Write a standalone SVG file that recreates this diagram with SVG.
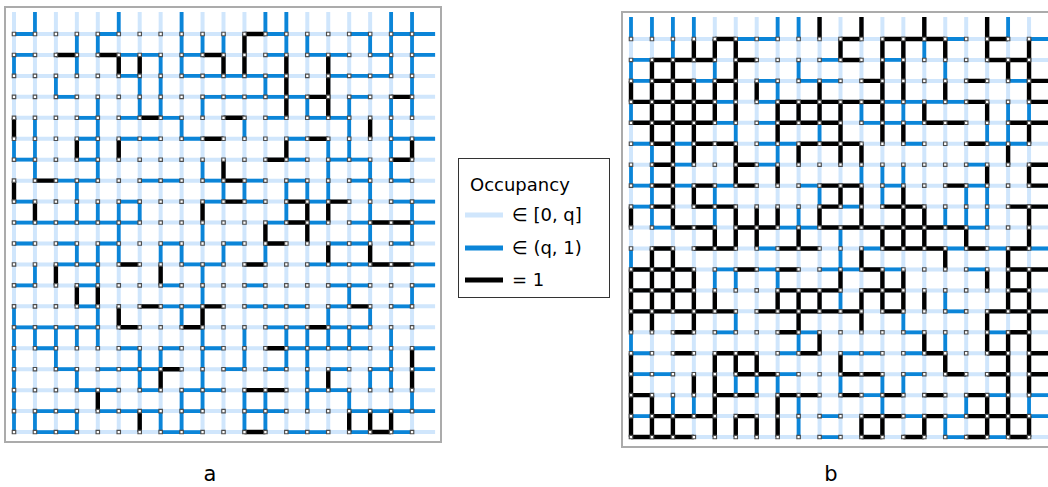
<svg xmlns="http://www.w3.org/2000/svg" xmlns:xlink="http://www.w3.org/1999/xlink" width="1048" height="487" viewBox="0 0 1048 487">
<style>
.lt{fill:none;stroke:#d0e6fc;stroke-width:0.19}
.bl{fill:none;stroke:#0b85d8;stroke-width:0.18}
.bk{fill:none;stroke:#000;stroke-width:0.21}
.nd{fill:none;stroke:#4d4d4d;stroke-width:0.22;stroke-dasharray:0.22 0.78}
.nw{fill:none;stroke:#fff;stroke-width:0.11;stroke-dasharray:0.11 0.89}
.box{fill:#fff;stroke:#ababab;stroke-width:2}
text{font-family:"DejaVu Sans",Verdana,sans-serif;fill:#000}
</style>
<defs>
<path id="lat" class="lt" d="M-.1 0H20.1M-.1 1H20.1M-.1 2H20.1M-.1 3H20.1M-.1 4H20.1M-.1 5H20.1M-.1 6H20.1M-.1 7H20.1M-.1 8H20.1M-.1 9H20.1M-.1 10H20.1M-.1 11H20.1M-.1 12H20.1M-.1 13H20.1M-.1 14H20.1M-.1 15H20.1M-.1 16H20.1M-.1 17H20.1M-.1 18H20.1M-.1 19H20.1M0-1.05V19M1-1.05V19M2-1.05V19M3-1.05V19M4-1.05V19M5-1.05V19M6-1.05V19M7-1.05V19M8-1.05V19M9-1.05V19M10-1.05V19M11-1.05V19M12-1.05V19M13-1.05V19M14-1.05V19M15-1.05V19M16-1.05V19M17-1.05V19M18-1.05V19M19-1.05V19"/>
<g id="nrow"><path class="nd" d="M-.11 0H19.3"/><path class="nw" d="M-.055 0H19.3"/></g>
<g id="nodes">
<use xlink:href="#nrow" y="0"/><use xlink:href="#nrow" y="1"/><use xlink:href="#nrow" y="2"/><use xlink:href="#nrow" y="3"/><use xlink:href="#nrow" y="4"/>
<use xlink:href="#nrow" y="5"/><use xlink:href="#nrow" y="6"/><use xlink:href="#nrow" y="7"/><use xlink:href="#nrow" y="8"/><use xlink:href="#nrow" y="9"/>
<use xlink:href="#nrow" y="10"/><use xlink:href="#nrow" y="11"/><use xlink:href="#nrow" y="12"/><use xlink:href="#nrow" y="13"/><use xlink:href="#nrow" y="14"/>
<use xlink:href="#nrow" y="15"/><use xlink:href="#nrow" y="16"/><use xlink:href="#nrow" y="17"/><use xlink:href="#nrow" y="18"/><use xlink:href="#nrow" y="19"/>
</g>
</defs>
<rect width="1048" height="487" fill="#fff"/>

<g id="panel-a">
<rect class="box" x="5" y="7" width="436" height="435"/>
<g transform="translate(14 34) scale(20.95)">
<use xlink:href="#lat"/>
<path class="bl" d="M0 0h1M4 0h1M12 0h1M16 0h1M18 0h2.1M0 1h1M5 1h2M8 1h1M12 1h1M14 1h2M17 1h1M19 1h1.1M5 2h1M8 2h5M15 2h3M2 3h1M9 3h5M16 3h1M3 4h1M5 4h1M7 4h1M12 4h1M14 4h2M3 5h1M5 5h2M8 5h1M13 5h1M18 5h2.1M0 6h1M3 6h1M13 6h1M15 6h2M2 7h2M6 7h2M9 7h1M11 7h1M13 7h1M16 7h1M18 7h1M0 8h1M5 8h1M9 8h1M11 8h1M14 8h1M18 8h2.1M0 9h6M12 9h1M14 9h1M16 9h1M19 9h1.1M0 10h1M2 10h1M4 10h1M7 10h1M10 10h1M15 10h2M18 10h1M2 11h2M8 11h2M14 11h3M19 11h1.1M0 12h1M3 12h1M7 12h1M11 12h1M15 12h2M19 12h1.1M3 13h1M7 13h2M11 13h3M15 13h1M18 13h1M0 14h4M12 14h2M15 14h2M1 15h1M5 15h1M7 15h1M9 15h1M13 15h4M19 15h1.1M2 16h1M4 16h3M10 16h1M12 16h1M15 16h1M17 16h1M19 16h1.1M3 17h2M6 17h1M8 17h2M14 17h2M1 18h2M4 18h3M8 18h1M11 18h2M16 18h4.1M1 19h2M7 19h2M13 19h2M16 19h1M18 19h1
M0 2v-1M0 6v-1M0 19V13M1 0V-1.05M1 7V4M1 12v-1M1 15v-1M1 19v-1M2 3v-1M2 16V14M3 2V0M3 9V7M3 11v-1M3 15v-1M3 17v-1M3 19v-1M4 1v-1M4 7V3M4 9v-1M4 12V10M4 15V13M5 0V-1.05M5 11V8M6 4V2M6 9v-1M6 17V15M7 4V1M7 11v-1M7 16v-1M7 19v-1M8 2V-1.05M8 5v-1M8 11v-1M8 14v-1M8 19V17M9 1v-1M9 4v-1M9 7v-1M9 10v-1M9 13V11M9 18V14M10 1v-1M10 8v-1M10 11v-1M11 5v-1M11 8v-1M11 16V14M11 19V17M12 0V-1.05M12 3v-1M12 11v-1M12 19V17M13 1V-1.05M13 9V7M13 16V14M14 1v-1M14 4v-1M14 8v-1M14 18V14M15 8V5M15 15V13M16 6V3M16 13v-1M16 15v-1M16 18v-1M17 1v-1M17 10V6M17 14v-1M17 17v-1M18 2V-1.05M18 7V3M18 17V14M19 4V-1.05M19 10V8M19 13v-1M19 18v-1"/>
<path class="bk" d="M11 0h1M2 1h1M4 1h1M9 1h1M14 3h1M18 3h1M6 4h1M10 4h1M9 5h1M14 5h1M12 6h1M18 6h1M1 7h1M10 7h1M10 8h1M13 8h1M15 8h1M13 9h1M17 9h2M12 10h1M5 11h1M11 11h1M17 11h2M6 13h1M9 13h1M16 13h1M5 14h1M8 14h1M14 14h1M12 15h1M7 16h1M11 17h2M11 19h1M17 19h1
M0 5v-1M0 8v-1M1 9v-1M2 12v-1M3 6v-1M3 13v-1M4 13v-1M4 18v-1M5 2v-1M5 6v-1M5 14v-1M6 2v-1M6 19v-1M7 12v-1M7 17v-1M9 9v-1M9 14v-1M10 2v-1M10 7v-1M11 2V0M12 10v-1M13 4V1M13 6v-1M14 10V8M15 4V1M15 9v-1M15 11v-1M15 17v-1M16 19v-1M17 5v-1M17 11v-1M17 19v-1M18 19v-1M19 6v-1M19 17V15"/>
<use xlink:href="#nodes"/>
</g>
</g>

<g id="panel-b">
<rect class="box" x="622" y="12" width="440" height="435"/>
<g transform="translate(631 39) scale(20.95)">
<use xlink:href="#lat"/>
<path class="bl" d="M5 0h2M15 0h1M19 0h1.1M0 1h1M9 1h1M12 1h1M0 2h1M3 2h1M6 2h1M8 2h2M18 2h1M4 3h1M6 3h1M12 3h4M4 4h1M6 4h1M11 4h3M0 5h1M2 5h1M6 5h2M13 5h1M17 5h2M2 6h1M6 6h1M16 6h1M0 7h1M2 7h1M4 7h1M8 7h1M12 7h1M16 7h1M0 8h1M10 8h1M1 9h1M7 9h2M16 9h1M6 10h1M11 10h1M15 10h1M17 10h1M19 10h1.1M4 11h1M6 11h1M9 11h2M12 11h1M16 11h1M15 13h1M4 14h1M8 14h1M13 14h1M17 14h1M0 15h1M7 15h1M10 15h2M13 15h1M0 16h2M7 16h1M13 16h1M11 17h1M17 17h1M19 17h1.1M0 18h1M9 18h1M13 18h1M15 18h1M19 18h1.1M9 19h1M15 19h1M17 19h1
M0 0V-1.05M0 2v-1M0 4v-1M0 7v-1M0 11v-1M0 15v-1M1 0V-1.05M1 9V5M2 1V-1.05M2 18v-1M3 0V-1.05M3 18v-1M4 2v-1M4 9V7M4 12v-1M5 5v-1M5 12v-1M5 14v-1M5 17v-1M6 17v-1M7 0V-1.05M7 3v-1M7 6v-1M7 12v-1M7 17v-1M8 0V-1.05M8 2v-1M8 9v-1M8 15v-1M8 19V17M9 5v-1M9 8v-1M10 11V9M10 13v-1M10 17v-1M11 4v-1M11 7v-1M12 8V6M12 18V16M13 4v-1M13 7v-1M13 14v-1M13 17v-1M14 1v-1M15 2v-1M15 9v-1M15 13v-1M15 15v-1M15 19v-1M16 9V7M16 18v-1M17 5v-1M17 9V7M18 0V-1.05M18 5V3M19 4v-1M19 18v-1"/>
<path class="bk" d="M4 0h1M10 0h1M12 0h3M17 0h1M1 1h3M5 1h1M10 1h1M17 1h2M1 2h2M4 2h1M11 2h1M16 2h1M19 2h1.1M0 3h4M7 3h5M16 3h1M19 3h1.1M0 4h4M7 4h3M14 4h2M18 4h2.1M1 5h1M3 5h2M8 5h3M16 5h1M1 6h1M5 6h1M19 6h1.1M1 7h1M3 7h1M5 7h1M9 7h2M15 7h1M19 7h1.1M1 8h1M3 8h2M9 8h1M12 8h2M18 8h2.1M2 9h2M5 9h2M9 9h7M1 10h1M3 10h2M7 10h2M12 10h3M16 10h1M18 10h1M0 11h3M5 11h1M7 11h1M11 11h1M18 11h2.1M0 12h3M7 12h3M11 12h2M18 12h1M0 13h5M6 13h5M12 13h1M17 13h3.1M2 14h1M7 14h1M18 14h1M2 15h1M4 15h2M8 15h1M14 15h1M17 15h1M19 15h1.1M5 16h2M10 16h2M15 16h1M17 16h1M19 16h1.1M0 17h1M4 17h2M7 17h2M10 17h1M12 17h1M14 17h1M16 17h1M1 18h3M5 18h1M11 18h2M14 18h1M16 18h3M0 19h3M11 19h1M13 19h1M16 19h1M18 19h1
M0 3v-1M0 9v-1M0 14V11M0 19V15M1 5V1M1 14V10M1 19V17M2 9V1M2 13V10M2 19v-1M3 1v-1M3 6V2M3 8v-1M3 14V11M3 17v-1M4 1v-1M4 4V2M4 10v-1M4 13v-1M4 19V15M5 4V0M5 7V5M5 10V8M5 16v-1M5 19v-1M6 3v-1M6 10V8M6 16v-1M6 19v-1M7 5V3M7 7v-1M7 9v-1M7 13v-1M7 19V17M8 4v-1M8 6v-1M8 10v-1M8 14V12M9 0V-1.05M9 4V2M9 9v-1M9 13v-1M9 15v-1M10 1v-1M10 6V3M10 8v-1M10 12v-1M10 16v-1M11 0V-1.05M11 6v-1M11 9V7M11 11v-1M11 14V12M11 19v-1M12 5V0M12 10v-1M12 13V11M12 19v-1M13 3V0M13 5v-1M13 10V7M13 13V11M14 0V-1.05M14 4v-1M14 10V8M14 13v-1M14 15v-1M14 19v-1M15 1v-1M15 3v-1M15 11v-1M15 16v-1M16 10v-1M17 1V-1.05M17 4v-1M17 7v-1M17 12v-1M17 15V13M17 19V17M18 2v-1M18 6v-1M18 13V10M18 19V14M19 3V0M19 5v-1M19 7v-1M19 10V8M19 17V11M19 19v-1"/>
<use xlink:href="#nodes"/>
</g>
</g>

<g id="legend">
<rect x="458.5" y="158.5" width="151" height="139" fill="#fff" stroke="#333" stroke-width="1"/>
<text x="470" y="191" font-size="18">Occupancy</text>
<line x1="465" y1="215" x2="503" y2="215" stroke="#d0e6fc" stroke-width="5"/>
<text x="512" y="221" font-size="18">∈ [0, q]</text>
<line x1="465" y1="248" x2="503" y2="248" stroke="#0b85d8" stroke-width="5"/>
<text x="512" y="254" font-size="18">∈ (q, 1)</text>
<line x1="465" y1="280" x2="503" y2="280" stroke="#000" stroke-width="5"/>
<text x="512" y="286" font-size="18">= 1</text>
</g>

<g id="labels">
<text x="210" y="481" font-size="21" text-anchor="middle">a</text>
<text x="831" y="481" font-size="21" text-anchor="middle">b</text>
</g>
</svg>
